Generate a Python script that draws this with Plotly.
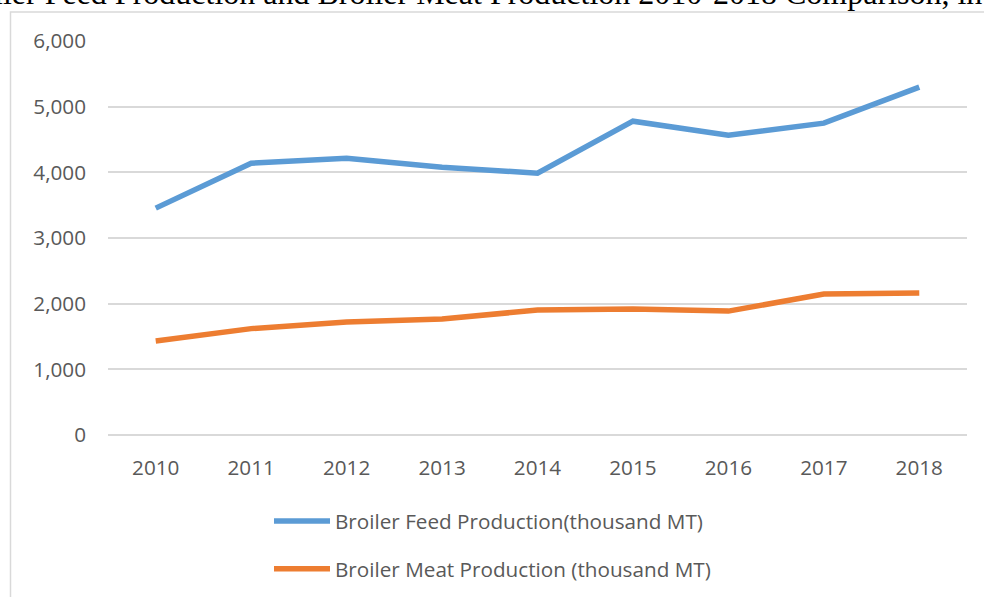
import plotly.graph_objects as go

years = ["2010", "2011", "2012", "2013", "2014", "2015", "2016", "2017", "2018"]
feed_production = [3455, 4140, 4216, 4079, 3988, 4779, 4566, 4749, 5297]
meat_production = [1431, 1620, 1720, 1766, 1903, 1918, 1887, 2146, 2161]
feed_name = "Broiler Feed Production(thousand MT)"
meat_name = "Broiler Meat Production (thousand MT)"
title_text = "Broiler Feed Production and Broiler Meat Production 2010-2018 Comparison, in thousand MT"

W, H = 984, 597
L, R, T, B = 108, 17, 41, 162
pw, ph = W - L - R, H - T - B

def px_x(x):
    return (x - L) / pw

def px_y(y):
    return 1 - (y - T) / ph

fig = go.Figure()
fig.add_trace(go.Scatter(x=years, y=feed_production, mode="lines", name=feed_name,
                         line=dict(color="#5B9BD5", width=5.5), legendgroup="a"))
fig.add_trace(go.Scatter(x=years, y=meat_production, mode="lines", name=meat_name,
                         line=dict(color="#ED7D31", width=5.5), legendgroup="b"))

tick_font = dict(family="Open Sans, Lato, sans-serif", size=20.7, color="#595959")
grid = "#D9D9D9"

fig.update_layout(
    width=W, height=H,
    margin=dict(l=L, r=R, t=T, b=B, autoexpand=False),
    paper_bgcolor="white", plot_bgcolor="white",
    font=tick_font,
    showlegend=True,
    legend=dict(x=px_x(269), xanchor="left", y=px_y(501), yanchor="top",
                orientation="v", tracegroupgap=18, itemwidth=56,
                font=tick_font, bgcolor="rgba(0,0,0,0)"),
    xaxis=dict(type="category", range=[-0.5, 8.5], showgrid=False, zeroline=False,
               showline=False, tickfont=tick_font, ticklabelstandoff=18, fixedrange=True),
    yaxis=dict(range=[0, 6000], dtick=1000, tickformat=",", showgrid=True,
               gridcolor=grid, gridwidth=1.5, zeroline=True, zerolinecolor=grid,
               zerolinewidth=1.5, showline=False, tickfont=tick_font,
               ticklabelstandoff=21, fixedrange=True),
    shapes=[dict(type="rect", xref="paper", yref="paper",
                 x0=px_x(10.5), x1=px_x(1000), y0=px_y(620), y1=px_y(12),
                 line=dict(color="#D9D9D9", width=1.5), layer="below")],
    annotations=[dict(text=title_text, xref="paper", yref="paper",
                      x=px_x(-56), xanchor="left", y=px_y(-7), yanchor="middle",
                      showarrow=False,
                      font=dict(family="Liberation Serif, Times New Roman, serif",
                                size=32, color="black"))],
)

fig.write_html("out.html", config={"displayModeBar": False},
               post_script="document.body.style.margin='0';document.body.style.overflow='hidden';")
